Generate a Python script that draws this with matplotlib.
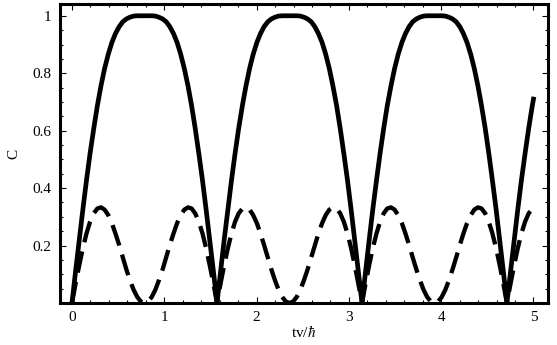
import matplotlib
matplotlib.use("Agg")
import matplotlib.pyplot as plt
from matplotlib.ticker import MultipleLocator

# time axis tv/hbar (one sample every pi/80)
t = [0.000, 0.039, 0.079, 0.118, 0.157, 0.196, 0.236, 0.275, 0.314, 0.353,
     0.393, 0.432, 0.471, 0.511, 0.550, 0.589, 0.628, 0.668, 0.707, 0.746,
     0.785, 0.825, 0.864, 0.903, 0.942, 0.982, 1.021, 1.060, 1.100, 1.139,
     1.178, 1.217, 1.257, 1.296, 1.335, 1.374, 1.414, 1.453, 1.492, 1.532,
     1.571, 1.610, 1.649, 1.689, 1.728, 1.767, 1.806, 1.846, 1.885, 1.924,
     1.963, 2.003, 2.042, 2.081, 2.121, 2.160, 2.199, 2.238, 2.278, 2.317,
     2.356, 2.395, 2.435, 2.474, 2.513, 2.553, 2.592, 2.631, 2.670, 2.710,
     2.749, 2.788, 2.827, 2.867, 2.906, 2.945, 2.985, 3.024, 3.063, 3.102,
     3.142, 3.181, 3.220, 3.259, 3.299, 3.338, 3.377, 3.416, 3.456, 3.495,
     3.534, 3.574, 3.613, 3.652, 3.691, 3.731, 3.770, 3.809, 3.848, 3.888,
     3.927, 3.966, 4.006, 4.045, 4.084, 4.123, 4.163, 4.202, 4.241, 4.280,
     4.320, 4.359, 4.398, 4.437, 4.477, 4.516, 4.555, 4.595, 4.634, 4.673,
     4.712, 4.752, 4.791, 4.830, 4.869, 4.909, 4.948, 4.987, 5.000]

# solid curve
c_solid = [0.0, .111, .220, .326, .427, .521, .608, .687, .756, .816,
           .866, .907, .938, .962, .979, .989, .995, .999, 1.0, 1.0,
           1.0, 1.0, 1.0, .999, .995, .989, .979, .962, .938, .907,
           .866, .816, .756, .687, .608, .521, .427, .326, .220, .111,
           0.0, .111, .220, .326, .427, .521, .608, .687, .756, .816,
           .866, .907, .938, .962, .979, .989, .995, .999, 1.0, 1.0,
           1.0, 1.0, 1.0, .999, .995, .989, .979, .962, .938, .907,
           .866, .816, .756, .687, .608, .521, .427, .326, .220, .111,
           0.0, .111, .220, .326, .427, .521, .608, .687, .756, .816,
           .866, .907, .938, .962, .979, .989, .995, .999, 1.0, 1.0,
           1.0, 1.0, 1.0, .999, .995, .989, .979, .962, .938, .907,
           .866, .816, .756, .687, .608, .521, .427, .326, .220, .111,
           0.0, .111, .220, .326, .427, .521, .608, .687, .710]

# dashed curve
c_dashed = [0.0, .068, .132, .191, .242, .283, .312, .329, .333, .325,
            .306, .278, .242, .202, .159, .117, .079, .046, .021, .005,
            0.0, .005, .021, .046, .079, .117, .159, .202, .242, .278,
            .306, .325, .333, .329, .312, .283, .242, .191, .132, .068,
            0.0, .068, .132, .191, .242, .283, .312, .329, .333, .325,
            .306, .278, .242, .202, .159, .117, .079, .046, .021, .005,
            0.0, .005, .021, .046, .079, .117, .159, .202, .242, .278,
            .306, .325, .333, .329, .312, .283, .242, .191, .132, .068,
            0.0, .068, .132, .191, .242, .283, .312, .329, .333, .325,
            .306, .278, .242, .202, .159, .117, .079, .046, .021, .005,
            0.0, .005, .021, .046, .079, .117, .159, .202, .242, .278,
            .306, .325, .333, .329, .312, .283, .242, .191, .132, .068,
            0.0, .068, .132, .191, .242, .283, .312, .329, .332]

x_ticks = [0, 1, 2, 3, 4, 5]
y_ticks = [0.2, 0.4, 0.6, 0.8, 1.0]
y_tick_labels = ["0.2", "0.4", "0.6", "0.8", "1"]

plt.rcParams["font.family"] = ["Liberation Serif", "DejaVu Serif"]
plt.rcParams["mathtext.fontset"] = "stix"

fig = plt.figure(figsize=(5.57, 3.45), dpi=100)
ax = fig.add_axes([0.1077, 0.1217, 0.8761, 0.8667])

ax.plot(t, c_solid, color="black", lw=3.4, solid_joinstyle="round")
ax.plot(t, c_dashed, color="black", lw=3.1, dashes=(5.0, 2.2),
        dash_capstyle="butt")

ax.set_xlim(-0.13, 5.157)
ax.set_ylim(0, 1.041)
ax.set_xticks(x_ticks)
ax.set_yticks(y_ticks)
ax.set_yticklabels(y_tick_labels)
ax.xaxis.set_minor_locator(MultipleLocator(0.2))
ax.yaxis.set_minor_locator(MultipleLocator(0.05))
ax.tick_params(which="both", direction="in", top=True, right=True,
               labelsize=11, width=0.8)
ax.tick_params(which="major", length=4, pad=6)
ax.tick_params(which="minor", length=2)
for s in ax.spines.values():
    s.set_linewidth(2.2)

ax.set_xlabel(r"tv/$\hbar$", fontsize=11, labelpad=0)
ax.set_ylabel("C", fontsize=11, labelpad=9)

fig.savefig("out.png", dpi=100)
